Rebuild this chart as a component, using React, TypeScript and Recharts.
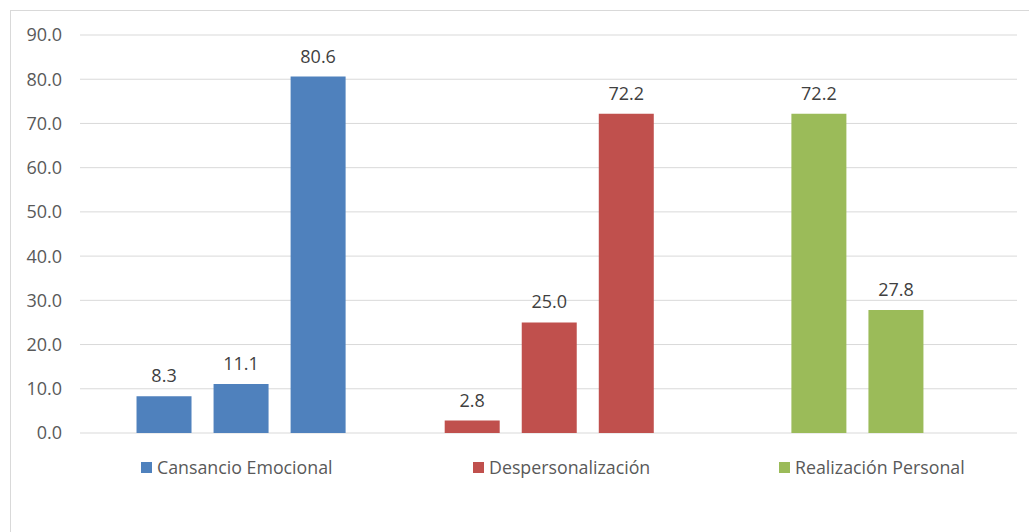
import { BarChart, Bar, XAxis, YAxis, CartesianGrid, LabelList, Cell, Legend } from 'recharts';

const groupNames = ['Cansancio Emocional', 'Despersonalización', 'Realización Personal'];
const groupColors = ['#4f81bd', '#c0504d', '#9bbb59'];
const ceValues = [8.3, 11.1, 80.6];
const dpValues = [2.8, 25.0, 72.2];
const rpValues = [72.2, 27.8];
// slot of each bar on the category axis; empty slots give the spacing
const ceSlots = [1, 3, 5];
const dpSlots = [9, 11, 13];
const rpSlots = [18, 20];
const slotCount = 23;
const yTicks = [0, 10, 20, 30, 40, 50, 60, 70, 80, 90];

const FONT = '"Open Sans", sans-serif';
const legendLeft = [141, 473, 779];

function buildData() {
  const rows = Array.from({ length: slotCount }, (_, i) => ({
    slot: `s${i}`,
    value: null as number | null,
    group: -1,
  }));
  const groups: [number[], number[]][] = [
    [ceSlots, ceValues],
    [dpSlots, dpValues],
    [rpSlots, rpValues],
  ];
  groups.forEach(([slots, values], g) => {
    slots.forEach((s, i) => {
      rows[s].value = values[i];
      rows[s].group = g;
    });
  });
  return rows;
}

const data = buildData();

function GroupLegend() {
  return (
    <div style={{ position: 'relative', width: 1029, height: 26, fontFamily: FONT }}>
      {groupNames.map((name, i) => (
        <div
          key={name}
          style={{
            position: 'absolute',
            left: legendLeft[i],
            top: 0,
            display: 'flex',
            alignItems: 'center',
            whiteSpace: 'nowrap',
          }}
        >
          <span style={{ width: 11, height: 11, background: groupColors[i], marginRight: 5, display: 'inline-block' }} />
          <span style={{ fontSize: 17.8, color: '#595959' }}>{name}</span>
        </div>
      ))}
    </div>
  );
}

export default function App() {
  return (
    <div style={{ position: 'fixed', left: 0, top: 0, width: 1029, height: 532, background: '#fff', overflow: 'hidden' }}>
      <div
        style={{
          position: 'absolute',
          left: 10,
          top: 10,
          width: 1040,
          height: 540,
          border: '1px solid #d9d9d9',
        }}
      />
      <div style={{ position: 'absolute', left: 0, top: 0 }}>
        <BarChart
          width={1029}
          height={532}
          data={data}
          margin={{ top: 35, right: 12, left: 0, bottom: 99 }}
          barCategoryGap={-8}
        >
          <CartesianGrid vertical={false} stroke="#d9d9d9" />
          <XAxis dataKey="slot" hide padding={{ left: 26, right: 25 }} />
          <YAxis
            width={80}
            domain={[0, 90]}
            ticks={yTicks}
            interval={0}
            axisLine={false}
            tickLine={false}
            tickSize={0}
            tickMargin={18}
            tickFormatter={(v: number) => v.toFixed(1)}
            tick={{ fontSize: 18, fill: '#595959', fontFamily: FONT }}
          />
          <Legend
            layout="horizontal"
            verticalAlign="middle"
            content={() => <GroupLegend />}
            wrapperStyle={{ top: 455, left: 0, width: 1029 }}
          />
          <Bar dataKey="value" isAnimationActive={false}>
            {data.map((d, i) => (
              <Cell key={i} fill={d.group >= 0 ? groupColors[d.group] : 'none'} />
            ))}
            <LabelList
              dataKey="value"
              position="top"
              offset={14}
              formatter={(v: any) => (v == null ? '' : Number(v).toFixed(1))}
              style={{ fontSize: 18, fill: '#404040', fontFamily: FONT }}
            />
          </Bar>
        </BarChart>
      </div>
    </div>
  );
}
